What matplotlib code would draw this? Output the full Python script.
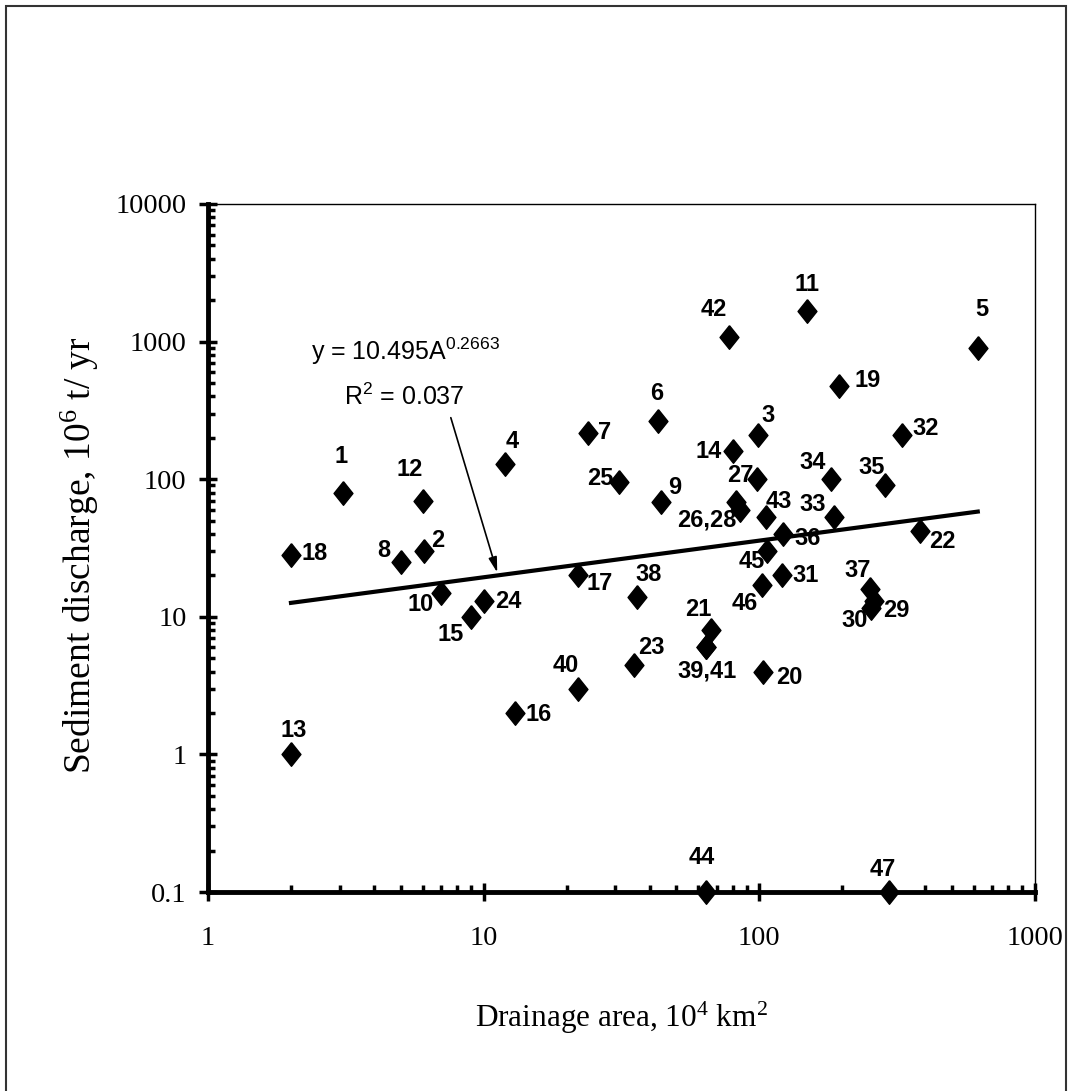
import numpy as np
import matplotlib
matplotlib.use("Agg")
import matplotlib.pyplot as plt
from matplotlib import font_manager
from matplotlib.patches import Rectangle
from matplotlib.ticker import LogLocator, FixedLocator, FuncFormatter, NullFormatter

# river number, drainage area (10^4 km2), sediment discharge (10^6 t/yr)
river_id = [1, 2, 3, 4, 5, 6, 7, 8, 9, 10, 11, 12, 13, 14, 15, 16, 17, 18, 19, 20,
            21, 22, 23, 24, 25, 26, 27, 28, 29, 30, 31, 32, 33, 34, 35, 36, 37, 38, 39, 40,
            41, 42, 43, 44, 45, 46, 47]
area = [3.1, 6.1, 99, 12, 620, 43, 24, 5, 44, 7, 149, 6, 2, 80, 9, 13, 22, 2, 195, 103,
        67, 384, 35, 10, 31, 82, 98, 85, 260, 255, 121, 330, 186, 182, 285, 122, 253, 36, 64, 22,
        64, 77.6, 106, 64, 107, 102, 296]
discharge = [80, 30, 210, 130, 900, 265, 218, 25, 68, 15, 1670, 70, 1, 160, 10, 2, 20, 28, 475, 4,
             8, 42, 4.5, 13, 95, 68, 100, 60, 13, 11.5, 20, 208, 53, 100, 91, 40, 16, 14, 6, 3,
             6, 1080, 53, 0.1, 30, 17, 0.1]

# power fit y = a * A^b
fit_a = 10.495
fit_b = 0.2663
fit_r2 = 0.037

# labels shared by overlapping points
label_text = {26: "26,28", 39: "39,41", 28: None, 41: None}

# label offsets from the marker, in pixels (right, down)
label_off = {1: (-2, -36), 2: (13, -11), 3: (10, -19), 4: (7, -22), 5: (4, -38),
             6: (-2, -27), 7: (16, 0), 8: (-17, -12), 9: (14, -15), 10: (-20, 12),
             11: (0, -26), 12: (-13, -31), 13: (3, -24), 14: (-24, 0), 15: (-20, 18),
             16: (24, 2), 17: (22, 8), 18: (24, -2), 19: (28, -6), 20: (26, 6),
             21: (-13, -21), 22: (22, 10), 23: (18, -17), 24: (25, 0), 25: (-19, -4),
             26: (-29, 18), 27: (-17, -4), 29: (23, 9), 30: (-17, 12), 31: (23, 0),
             32: (23, -7), 33: (-21, -13), 34: (-18, -17), 35: (-13, -17), 36: (24, 5),
             37: (-13, -18), 38: (12, -22), 39: (1, 24), 40: (-12, -23), 42: (-15, -28),
             43: (13, -16), 44: (-4, -34), 45: (-16, 10), 46: (-17, 18), 47: (-7, -23)}

names = {f.name for f in font_manager.fontManager.ttflist}
if "Liberation Sans Narrow" in names:
    lab_font = "Liberation Sans Narrow"
    lab_size = 19.5
    eq_size = 20
else:
    lab_font = "Liberation Sans"
    lab_size = 17
    eq_size = 18
serif = "Liberation Serif"

fig = plt.figure(figsize=(10.68, 10.91), dpi=100)
W, H = 1068, 1091
ax = fig.add_axes([208 / W, 1 - 892 / H, (1035 - 208) / W, (892 - 204) / H])

# outer frame
fig.patches.append(Rectangle((6 / W, -0.02), (1066 - 6) / W, 1 - 6 / H + 0.02,
                             transform=fig.transFigure, fill=False,
                             edgecolor="#333333", linewidth=1.5))

ax.set_xscale("log")
ax.set_yscale("log")
ax.set_xlim(1, 1000)
ax.set_ylim(0.1, 10000)

# diamond squeezed horizontally like the original
diamond = [(0, 1), (0.8, 0), (0, -1), (-0.8, 0), (0, 1)]
ax.plot(area, discharge, linestyle="none", marker=diamond, markersize=17,
        color="black", clip_on=False, zorder=3)

xf = np.array([min(area), max(area)])
ax.plot(xf, fit_a * xf ** fit_b, color="black", linewidth=3, zorder=2)

k = 0.72
for rid, x, y in zip(river_id, area, discharge):
    txt = label_text.get(rid, str(rid))
    if txt is None:
        continue
    dx, dy = label_off[rid]
    ax.annotate(txt, (x, y), xytext=(dx * k, -dy * k), textcoords="offset points",
                ha="center", va="center", fontsize=lab_size, fontweight="bold",
                family=lab_font, zorder=4)

ax.text(5.2, 731, "y = 10.495A$\\mathregular{^{0.2663}}$", ha="center", va="baseline",
        fontsize=eq_size, family=lab_font)
ax.text(5.15, 344, "R$\\mathregular{^2}$ = 0.037", ha="center", va="baseline",
        fontsize=eq_size, family=lab_font)
ax.annotate("", xy=(11.2, 21), xytext=(7.6, 280),
            arrowprops=dict(arrowstyle="-|>,head_length=0.9,head_width=0.25",
                            color="black", lw=1.2, shrinkA=0, shrinkB=0))

# axes styling
for s in ["left", "bottom"]:
    ax.spines[s].set_linewidth(3.5)
for s in ["top", "right"]:
    ax.spines[s].set_linewidth(1)

fmt = FuncFormatter(lambda v, p: "{:g}".format(v))
ax.xaxis.set_major_locator(FixedLocator([1, 10, 100, 1000]))
ax.yaxis.set_major_locator(FixedLocator([0.1, 1, 10, 100, 1000, 10000]))
ax.xaxis.set_major_formatter(fmt)
ax.yaxis.set_major_formatter(fmt)
ax.xaxis.set_minor_locator(LogLocator(base=10, subs=np.arange(2, 10)))
ax.yaxis.set_minor_locator(LogLocator(base=10, subs=np.arange(2, 10)))
ax.xaxis.set_minor_formatter(NullFormatter())
ax.yaxis.set_minor_formatter(NullFormatter())
ax.tick_params(which="major", direction="inout", length=13, width=2.5)
ax.tick_params(which="minor", direction="in", length=5, width=2.5)
ax.tick_params(axis="x", which="major", pad=18)
ax.tick_params(axis="y", which="major", pad=9)
for lbl in ax.get_xticklabels() + ax.get_yticklabels():
    lbl.set_family(serif)
    lbl.set_fontsize(20.5)

ax.set_xlabel("Drainage area, 10$\\mathregular{^4}$ km$\\mathregular{^2}$",
              family=serif, fontsize=22.5)
ax.xaxis.set_label_coords(0.5, -0.183)
ax.xaxis.label.set_va("center")
ax.set_ylabel("Sediment discharge, 10$\\mathregular{^6}$ t/ yr", family=serif, fontsize=27)
ax.yaxis.set_label_coords(-0.155, 0.49)
ax.yaxis.label.set_va("center")

fig.savefig("out.png", dpi=100)
